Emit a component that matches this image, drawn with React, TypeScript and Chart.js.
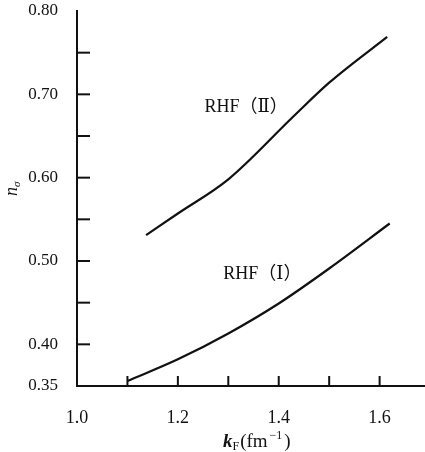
import React, { useEffect, useRef } from "react";
import { Chart, registerables } from "chart.js";

Chart.register(...registerables);

// Data
const kF_I = [1.10, 1.20, 1.30, 1.40, 1.50, 1.62];
const n_I = [0.356, 0.382, 0.413, 0.449, 0.491, 0.545];
const kF_II = [1.137, 1.20, 1.30, 1.43, 1.50, 1.615];
const n_II = [0.531, 0.557, 0.598, 0.674, 0.714, 0.769];

const seriesLabels = ["RHF（Ⅰ）", "RHF（Ⅱ）"];
const xTickMarks = [1.1, 1.2, 1.3, 1.4, 1.5, 1.6];
const xTickLabels = [1.0, 1.2, 1.4, 1.6];
const yTickMarks = [0.40, 0.45, 0.50, 0.55, 0.60, 0.65, 0.70, 0.75];
const yTickLabels = [0.35, 0.40, 0.50, 0.60, 0.70, 0.80];
// where the curve labels sit (data coords, left/middle anchor)
const labelPos = [
  { x: 1.29, y: 0.484 },
  { x: 1.253, y: 0.685 },
];

const SERIF = '"Liberation Serif", "DejaVu Serif", "Noto Sans CJK SC", serif';

const decorPlugin = {
  id: "decor",
  afterDraw(chart: any) {
    const { ctx, chartArea } = chart;
    const xs = chart.scales.x;
    const ys = chart.scales.y;
    ctx.save();
    ctx.strokeStyle = "#111";
    ctx.lineWidth = 2;
    // inward y ticks
    yTickMarks.forEach((v) => {
      const py = ys.getPixelForValue(v);
      ctx.beginPath();
      ctx.moveTo(chartArea.left, py);
      ctx.lineTo(chartArea.left + 13, py);
      ctx.stroke();
    });
    // inward x ticks
    xTickMarks.forEach((v) => {
      const px = xs.getPixelForValue(v);
      ctx.beginPath();
      ctx.moveTo(px, chartArea.bottom);
      ctx.lineTo(px, chartArea.bottom - 10);
      ctx.stroke();
    });
    // curve labels
    ctx.fillStyle = "#111";
    ctx.font = `18px ${SERIF}`;
    ctx.textBaseline = "middle";
    ctx.textAlign = "left";
    labelPos.forEach((p, i) => {
      ctx.fillText(seriesLabels[i], xs.getPixelForValue(p.x), ys.getPixelForValue(p.y));
    });
    // x title: k_F(fm^-1)
    ctx.textBaseline = "alphabetic";
    let x = 223;
    const base = 447;
    ctx.font = `italic bold 19px ${SERIF}`;
    ctx.fillText("k", x, base);
    x += ctx.measureText("k").width;
    ctx.font = `12px ${SERIF}`;
    ctx.fillText("F", x, base + 3);
    x += ctx.measureText("F").width + 1;
    ctx.font = `19px ${SERIF}`;
    ctx.fillText("(fm", x, base);
    x += ctx.measureText("(fm").width + 2;
    ctx.font = `12px ${SERIF}`;
    ctx.fillText("−1", x, base - 8);
    x += ctx.measureText("−1").width + 2;
    ctx.font = `19px ${SERIF}`;
    ctx.fillText(")", x, base);
    // y title: n_sigma rotated
    ctx.translate(17, 196);
    ctx.rotate(-Math.PI / 2);
    ctx.font = `italic 18px ${SERIF}`;
    ctx.fillText("n", 0, 0);
    const w = ctx.measureText("n").width;
    ctx.font = `italic 11px ${SERIF}`;
    ctx.fillText("σ", w, 3);
    ctx.restore();
  },
};

export default function App() {
  const ref = useRef<HTMLCanvasElement>(null);
  useEffect(() => {
    if (!ref.current) return;
    const chart = new Chart(ref.current, {
      type: "scatter",
      data: {
        datasets: [
          {
            label: seriesLabels[0],
            data: kF_I.map((k, i) => ({ x: k, y: n_I[i] })),
            showLine: true,
            borderColor: "#111",
            borderWidth: 2.2,
            pointRadius: 0,
            cubicInterpolationMode: "monotone",
          },
          {
            label: seriesLabels[1],
            data: kF_II.map((k, i) => ({ x: k, y: n_II[i] })),
            showLine: true,
            borderColor: "#111",
            borderWidth: 2.2,
            pointRadius: 0,
            cubicInterpolationMode: "monotone",
          },
        ],
      },
      options: {
        responsive: false,
        animation: false,
        layout: { padding: { top: 11, right: 0, left: 0, bottom: 0 } },
        plugins: { legend: { display: false }, tooltip: { enabled: false } },
        scales: {
          x: {
            type: "linear",
            min: 1.0,
            max: 1.69,
            grid: { display: false },
            border: { display: true, color: "#111", width: 2 },
            afterBuildTicks: (s: any) => {
              s.ticks = xTickLabels.map((v) => ({ value: v }));
            },
            afterFit: (s: any) => {
              s.height = 66;
              s.paddingLeft = 0;
              s.paddingRight = 0;
            },
            ticks: {
              color: "#111",
              font: { family: SERIF, size: 18 },
              padding: 13,
              maxRotation: 0,
              callback: (v: any) => Number(v).toFixed(1),
            },
          },
          y: {
            type: "linear",
            min: 0.35,
            max: 0.8,
            grid: { display: false },
            border: { display: true, color: "#111", width: 2 },
            afterBuildTicks: (s: any) => {
              s.ticks = yTickLabels.map((v) => ({ value: v }));
            },
            afterFit: (s: any) => {
              s.width = 77;
              s.paddingTop = 0;
              s.paddingBottom = 0;
            },
            ticks: {
              color: "#111",
              font: { family: SERIF, size: 17 },
              padding: 11,
              callback: (v: any) => Number(v).toFixed(2),
            },
          },
        },
      },
      plugins: [decorPlugin],
    } as any);
    return () => chart.destroy();
  }, []);
  return (
    <div style={{ position: "absolute", left: 0, top: 0, width: 425, height: 452, background: "#fff" }}>
      <canvas ref={ref} width={425} height={452} />
    </div>
  );
}
